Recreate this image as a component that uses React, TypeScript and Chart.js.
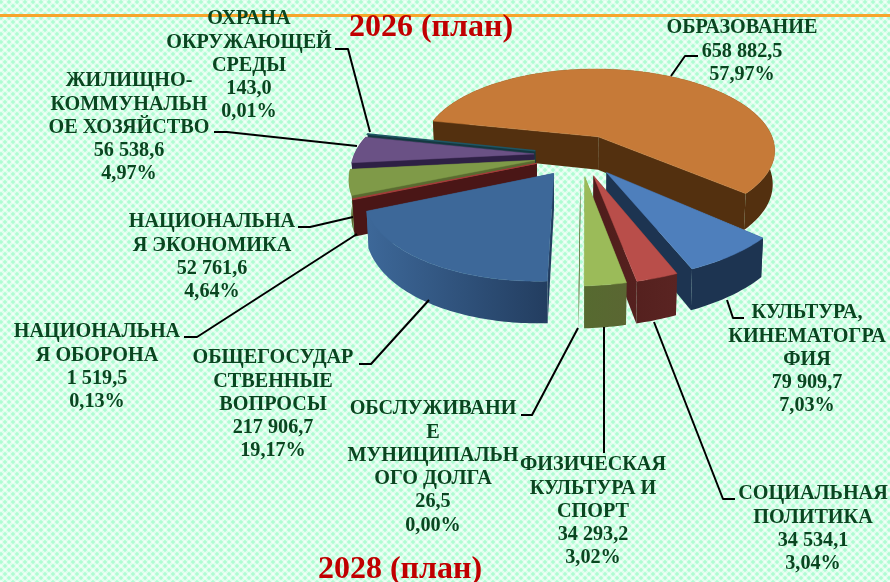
import React, { useEffect, useRef } from "react";
import { Chart, registerables } from "chart.js";

Chart.register(...registerables);

const categories = [
  ["ОБРАЗОВАНИЕ"],
  ["КУЛЬТУРА,", "КИНЕМАТОГРА", "ФИЯ"],
  ["СОЦИАЛЬНАЯ", "ПОЛИТИКА"],
  ["ФИЗИЧЕСКАЯ", "КУЛЬТУРА И", "СПОРТ"],
  ["ОБСЛУЖИВАНИ", "Е", "МУНИЦИПАЛЬН", "ОГО ДОЛГА"],
  ["ОБЩЕГОСУДАР", "СТВЕННЫЕ", "ВОПРОСЫ"],
  ["НАЦИОНАЛЬНА", "Я ОБОРОНА"],
  ["НАЦИОНАЛЬНА", "Я ЭКОНОМИКА"],
  ["ЖИЛИЩНО-", "КОММУНАЛЬН", "ОЕ ХОЗЯЙСТВО"],
  ["ОХРАНА", "ОКРУЖАЮЩЕЙ", "СРЕДЫ"],
];
const values = [658882.5, 79909.7, 34534.1, 34293.2, 26.5, 217906.7, 1519.5, 52761.6, 56538.6, 143.0];
const valueLabels = ["658 882,5", "79 909,7", "34 534,1", "34 293,2", "26,5", "217 906,7", "1 519,5", "52 761,6", "56 538,6", "143,0"];
const percentLabels = ["57,97%", "7,03%", "3,04%", "3,02%", "0,00%", "19,17%", "0,13%", "4,64%", "4,97%", "0,01%"];
const titleTop = "2026 (план)";
const titleBottom = "2028 (план)";

const topColors = ["#C67A38", "#4E7FBC", "#B94E4A", "#9BBB59", "#9BBB59", "#3D6899", "#A33E3A", "#7F9A48", "#6A5185", "#1F5563"];
const wallLeft = ["#53300F", "#1D3451", "#4F1D1B", "#566A30", "#566A30", "#3D6899", "#4A1616", "#5A6B30", "#2E2045", "#143840"];
const wallRight = ["#53300F", "#1D3451", "#5A2422", "#5A6632", "#5A6632", "#223C5E", "#4A1616", "#5A6B30", "#2E2045", "#143840"];
const edgeWidths = [0.5, 0.5, 0.5, 0.5, 0, 0.5, 1, 0.5, 0.5, 1.5];

// label placement: centre x and centre y of the first line
const labelX = [742, 807, 813, 593, 433, 273, 97, 212, 129, 249];
const labelY = [28, 313, 494, 465, 409, 358, 332, 222, 81, 19];
const LINE_H = 23.3;
const leaders: number[][][] = [
  [[698, 56], [685, 56], [671, 76]],
  [[744, 318], [733, 318], [727, 300]],
  [[735, 499], [723, 499], [654, 322]],
  [[604, 453], [604, 327]],
  [[521, 415], [532, 415], [578, 328]],
  [[359, 364], [371, 364], [429, 300]],
  [[184, 337], [197, 337], [357, 234]],
  [[298, 227], [310, 227], [353, 217]],
  [[214, 132], [227, 132], [357, 146]],
  [[335, 49], [348, 49], [370, 132]],
];

// projection of the pie plane onto the page
const CX = 579, CY = 155, AX = 180, BY = 84, PERSP = 0.16, EXPLODE = 0.25, DEPTH = 34, NEAR_SKEW = 7;

function proj(u: number, v: number) {
  const w = 1 - PERSP * v;
  const skew = v > 0 ? NEAR_SKEW * v * v : 0;
  return { x: CX + (AX * u) / w - skew, y: CY + (BY * v) / w, w };
}
function low(p: { x: number; y: number; w: number }) {
  return { x: CX + (p.x - CX) * 0.99, y: p.y + DEPTH / p.w, w: p.w };
}

const pie3d = {
  id: "pie3d",
  beforeDatasetsDraw(chart: any) {
    const ctx = chart.ctx as CanvasRenderingContext2D;
    const meta = chart.getDatasetMeta(0);
    const order = meta.data
      .map((el: any, i: number) => {
        const a = el.getProps(["x", "y", "startAngle", "endAngle", "outerRadius"], true);
        return { i, ...a, mid: (a.startAngle + a.endAngle) / 2 };
      })
      .sort((p: any, q: any) => Math.sin(p.mid) - Math.sin(q.mid));

    ctx.save();
    ctx.fillStyle = "#F7A52C";
    ctx.fillRect(0, 14, chart.width, 3);
    ctx.restore();

    for (const s of order) {
      const ex = EXPLODE * Math.cos(s.mid), ey = EXPLODE * Math.sin(s.mid);
      const at = (ang: number) => {
        const px = s.x + s.outerRadius * Math.cos(ang);
        const py = s.y + s.outerRadius * Math.sin(ang);
        return proj(ex + (px - s.x) / s.outerRadius, ey + (py - s.y) / s.outerRadius);
      };
      const n = Math.max(2, Math.ceil((s.endAngle - s.startAngle) / 0.02));
      const rim: any[] = [];
      for (let k = 0; k <= n; k++) rim.push(at(s.startAngle + ((s.endAngle - s.startAngle) * k) / n));
      const v = proj(ex, ey);
      const xs = rim.map((p) => p.x).concat(v.x);
      const grad = ctx.createLinearGradient(Math.min(...xs), 0, Math.max(...xs), 0);
      grad.addColorStop(0, wallLeft[s.i]);
      grad.addColorStop(1, wallRight[s.i]);

      const band = (pts: any[]) => {
        ctx.beginPath();
        pts.forEach((p, k) => (k ? ctx.lineTo(p.x, p.y) : ctx.moveTo(p.x, p.y)));
        [...pts].reverse().forEach((p) => {
          const l = low(p);
          ctx.lineTo(l.x, l.y);
        });
        ctx.closePath();
        ctx.fill();
      };
      ctx.fillStyle = grad;
      band([v, rim[0]]);
      band([v, rim[n]]);
      band(rim);

      ctx.beginPath();
      ctx.moveTo(v.x, v.y);
      rim.forEach((p) => ctx.lineTo(p.x, p.y));
      ctx.closePath();
      ctx.fillStyle = topColors[s.i];
      ctx.fill();
      if (edgeWidths[s.i] > 0) {
        ctx.strokeStyle = topColors[s.i];
        ctx.lineWidth = edgeWidths[s.i];
        ctx.stroke();
      }
    }
    return false;
  },
  afterDraw(chart: any) {
    const ctx = chart.ctx as CanvasRenderingContext2D;
    ctx.save();
    ctx.strokeStyle = "#000000";
    ctx.lineWidth = 2;
    ctx.lineJoin = "round";
    leaders.forEach((pts) => {
      ctx.beginPath();
      pts.forEach(([x, y], k) => (k ? ctx.lineTo(x, y) : ctx.moveTo(x, y)));
      ctx.stroke();
    });
    ctx.textAlign = "center";
    ctx.textBaseline = "middle";
    ctx.font = 'bold 20.2px "Liberation Serif"';
    ctx.fillStyle = "#0A4520";
    categories.forEach((lines, i) => {
      [...lines, valueLabels[i], percentLabels[i]].forEach((t, k) => {
        ctx.fillText(t, labelX[i], labelY[i] + k * LINE_H);
      });
    });
    ctx.font = 'bold 32px "Liberation Serif"';
    ctx.fillStyle = "#C00000";
    ctx.fillText(titleTop, 431, 28);
    ctx.fillText(titleBottom, 400, 570);
    ctx.restore();
  },
};

export default function App() {
  const ref = useRef<HTMLCanvasElement>(null);
  useEffect(() => {
    const chart = new Chart(ref.current!, {
      type: "pie",
      data: {
        labels: categories.map((c) => c.join(" ")),
        datasets: [{ data: values, backgroundColor: topColors, borderWidth: 0 }],
      },
      options: {
        responsive: false,
        animation: false,
        rotation: -78,
        plugins: { legend: { display: false }, tooltip: { enabled: false }, title: { display: false } },
      },
      plugins: [pie3d],
    } as any);
    return () => chart.destroy();
  }, []);
  return (
    <div
      style={{
        position: "fixed",
        left: 0,
        top: 0,
        width: 890,
        height: 582,
        overflow: "hidden",
        backgroundColor: "#AEFCD2",
        backgroundImage:
          "repeating-linear-gradient(45deg, rgba(255,255,255,0.6) 0 1.4px, rgba(255,255,255,0) 2.4px 4.66px, rgba(255,255,255,0.6) 5.657px), repeating-linear-gradient(-45deg, rgba(255,255,255,0.6) 0 1.4px, rgba(255,255,255,0) 2.4px 4.66px, rgba(255,255,255,0.6) 5.657px)",
      }}
    >
      <canvas ref={ref} width={890} height={582} style={{ display: "block" }} />
    </div>
  );
}
